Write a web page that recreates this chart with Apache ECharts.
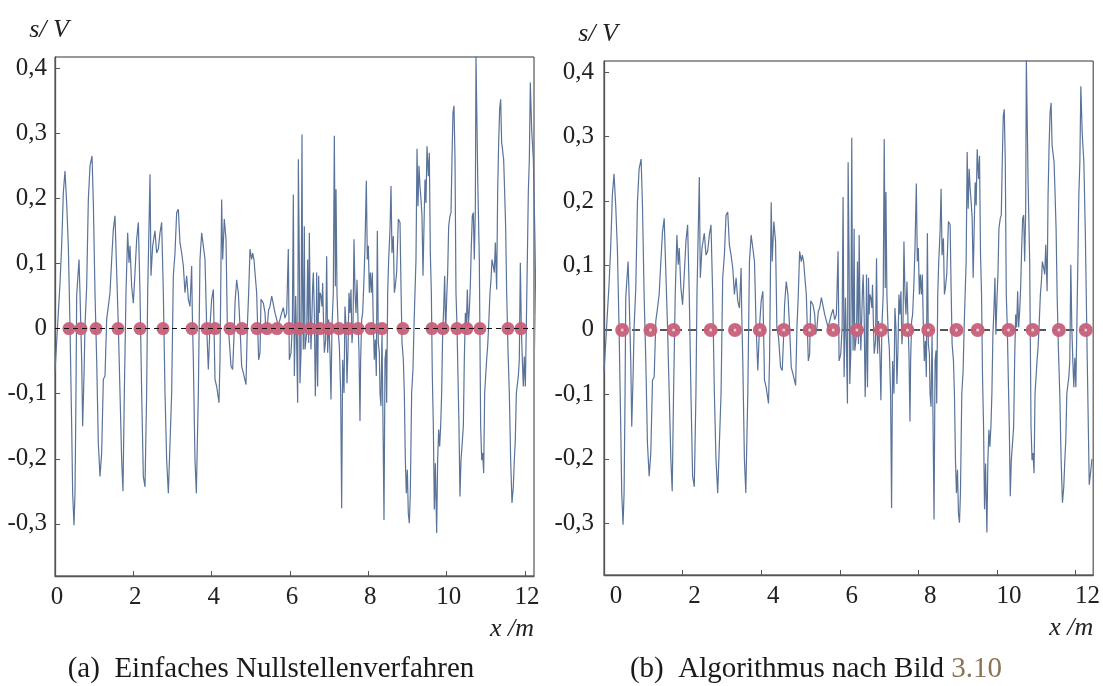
<!DOCTYPE html>
<html><head><meta charset="utf-8">
<script src="https://cdn.jsdelivr.net/npm/echarts@6/dist/echarts.min.js"></script>
<style>html,body{margin:0;padding:0;background:#fff}#c{width:1103px;height:686px}</style>
</head><body><div id="c"></div>
<script>
// Signal s(x) in V over x in m
const signalX = [
0,0.128,0.17,0.213,0.255,0.281,0.298,0.34,0.383,0.426,0.451,0.485,0.511,0.536,0.553,0.613,0.638,0.681,0.706,0.74,
0.766,0.809,0.851,0.894,0.945,0.979,1.021,1.064,1.106,1.149,1.191,1.234,1.277,1.319,1.362,1.404,1.447,1.489,1.532,1.557,
1.617,1.66,1.702,1.736,1.77,1.813,1.855,1.889,1.915,1.957,2.0,2.043,2.085,2.128,2.17,2.213,2.255,2.298,2.34,2.366,
2.4,2.426,2.451,2.494,2.553,2.596,2.638,2.681,2.723,2.766,2.809,2.851,2.894,2.936,2.979,3.021,3.064,3.106,3.149,3.191,
3.234,3.277,3.319,3.362,3.404,3.447,3.489,3.506,3.532,3.574,3.609,3.66,3.702,3.745,3.787,3.83,3.872,3.915,3.957,4.0,
4.043,4.085,4.128,4.187,4.213,4.255,4.281,4.323,4.366,4.4,4.443,4.494,4.536,4.57,4.596,4.638,4.681,4.723,4.766,4.809,
4.877,4.911,4.945,4.979,5.021,5.047,5.081,5.106,5.149,5.174,5.2,5.234,5.26,5.319,5.362,5.387,5.421,5.455,5.489,5.532,
5.617,5.702,
5.745,5.787,5.83,5.872,5.915,5.957,5.983,6.026,6.06,6.085,6.111,6.145,6.17,6.196,6.213,6.238,6.255,6.281,6.306,6.323,
6.34,6.366,6.383,6.426,6.451,6.477,6.494,6.511,6.536,6.562,6.579,6.596,6.621,6.647,6.664,6.681,6.706,6.732,6.749,6.766,
6.792,6.817,6.834,6.851,6.877,6.911,6.936,6.962,6.987,7.021,7.047,7.072,7.106,7.132,7.158,7.175,7.2,7.234,7.26,7.294,
7.319,7.345,7.379,7.404,7.43,7.455,7.481,7.506,7.532,7.557,7.583,7.609,7.634,7.66,7.685,7.711,7.736,7.762,7.787,7.804,
7.83,7.855,7.889,7.915,7.949,7.974,8.0,8.026,8.051,8.077,8.102,8.128,8.153,8.179,8.204,8.23,8.255,8.281,8.298,8.323,
8.349,8.374,8.4,8.426,8.451,8.468,8.494,8.519,8.553,8.579,8.604,8.638,8.664,8.689,8.723,8.766,8.809,8.834,8.86,8.894,
8.919,8.945,8.97,8.996,9.021,9.047,9.072,9.106,9.14,9.166,9.191,9.217,9.243,9.268,9.294,9.319,9.345,9.37,9.396,9.421,
9.447,9.472,9.498,9.532,9.557,9.583,9.609,9.634,9.66,9.685,9.711,9.745,9.77,9.796,9.821,9.847,9.872,9.898,9.923,9.949,
9.974,10.0,10.026,10.051,10.085,10.111,10.136,10.162,10.187,10.213,10.238,10.264,10.289,10.315,10.34,10.366,10.391,10.426,10.451,10.477,
10.502,10.528,10.553,10.579,10.604,10.63,10.655,10.681,10.706,10.732,10.749,10.792,10.834,10.868,10.894,10.919,10.945,10.97,10.996,11.021,
11.047,11.072,11.106,11.132,11.157,11.191,11.217,11.243,11.277,11.302,11.328,11.353,11.379,11.404,11.43,11.455,11.481,11.506,11.532,11.566,
11.6,11.634,11.668,11.702,11.728,11.753,11.779,11.804,11.83,11.855,11.881,11.906,11.932,11.957,11.983,12.009,12.034,12.06,12.085,12.111,
12.136,12.17,12.213,12.25,12.3,12.35,12.42
];
const signalY = [
-0.066,0.07,0.127,0.209,0.242,0.242,0.193,0.127,0.004,-0.15,-0.253,-0.302,-0.253,-0.099,0.05,0.106,0.055,-0.048,-0.15,-0.073,
0.004,0.065,0.198,0.25,0.265,0.193,0.055,-0.048,-0.176,-0.227,-0.191,-0.078,-0.073,0.014,0.034,0.055,0.106,0.152,0.173,0.122,
0.004,-0.099,-0.202,-0.25,-0.099,0.055,0.147,0.101,0.127,0.065,0.039,0.086,0.137,0.163,0.055,-0.099,-0.227,-0.243,-0.099,0.055,
0.157,0.237,0.081,0.127,0.15,0.116,0.122,0.147,0.163,0.055,-0.099,-0.202,-0.253,-0.253,-0.099,0.081,0.116,0.178,0.183,0.132,
0.116,0.096,0.055,0.081,0.045,0.034,0.096,0.024,-0.048,-0.202,-0.253,-0.099,0.106,0.147,0.127,0.106,0.004,-0.063,0.004,0.045,
0.06,-0.078,-0.089,-0.114,-0.048,0.198,0.106,0.168,0.137,0.004,-0.012,-0.058,-0.063,-0.012,0.039,0.075,0.055,0.004,-0.058,-0.068,
-0.086,0.004,0.055,0.122,0.106,0.116,0.106,0.086,0.055,0.004,-0.048,-0.037,0.045,0.039,0.024,-0.007,0.004,0.029,0.034,0.05,
0.024,0.004,
0.014,0.024,0.032,0.016,0.024,0.122,-0.048,-0.037,0.004,0.206,-0.073,0.05,-0.022,-0.114,0.26,0.106,-0.084,-0.037,0.298,0.045,
-0.032,0.157,-0.032,-0.007,0.106,-0.022,0.147,0.055,-0.032,0.024,0.065,0.086,0.024,-0.104,-0.048,0.086,-0.089,0.081,0.024,0.055,
0.05,0.034,0.07,0.024,-0.037,-0.017,0.111,-0.037,0.014,-0.037,-0.109,0.004,0.055,0.296,0.065,0.214,0.055,-0.007,-0.027,-0.099,
-0.276,-0.048,-0.099,0.034,0.004,-0.084,-0.032,0.055,0.024,0.06,-0.022,0.004,0.137,0.055,0.024,0.075,0.014,-0.037,-0.142,-0.048,
0.014,0.024,0.075,0.127,0.227,0.106,0.127,0.055,0.086,0.055,0.086,0.004,-0.048,-0.017,-0.073,0.15,-0.022,-0.037,-0.099,-0.119,
-0.007,-0.14,-0.294,-0.048,-0.032,-0.114,0.055,0.106,0.152,0.219,0.116,0.142,0.055,0.065,0.086,0.168,0.163,0.065,-0.022,-0.048,
-0.099,-0.202,-0.253,-0.217,-0.284,-0.299,-0.253,-0.099,-0.063,0.004,0.055,0.106,0.276,0.188,0.25,0.219,0.198,0.173,0.081,0.157,
0.229,0.193,0.28,0.234,0.27,0.116,0.055,-0.073,-0.15,-0.278,-0.207,-0.314,-0.202,-0.155,-0.181,-0.15,-0.099,-0.007,0.029,0.081,
-0.007,0.045,0.086,0.157,0.173,0.178,0.26,0.332,0.342,0.26,0.055,0.004,-0.073,-0.15,-0.258,-0.202,-0.181,-0.15,-0.048,0.024,
0.004,0.06,0.004,0.029,0.065,0.127,0.173,0.178,0.106,0.183,0.42,0.234,0.106,-0.15,-0.202,-0.191,-0.222,-0.099,-0.073,-0.048,
-0.027,0.004,0.055,0.075,0.106,0.096,0.086,0.132,0.06,0.209,0.286,0.337,0.352,0.286,0.286,0.26,0.209,0.157,0.055,-0.032,
-0.099,-0.202,-0.268,-0.243,-0.202,-0.171,-0.099,-0.099,-0.073,-0.048,0.101,0.004,-0.048,-0.089,-0.043,-0.089,0.004,0.106,0.209,0.26,
0.378,0.306,0.26,0.15,-0.05,-0.24,-0.2
];
// zero positions found by each method (x in m)
const zerosA = [0.357,0.664,1.047,1.608,2.17,2.757,3.498,3.88,4.085,4.468,4.774,5.157,5.412,5.668,5.974,6.23,6.51,6.765,6.995,7.251,7.481,7.736,8.067,8.348,8.884,9.625,9.906,10.263,10.518,10.85,11.565,11.897];
const zerosB = [0.463,1.182,1.772,2.716,3.334,3.967,4.575,5.233,5.835,6.438,7.046,7.722,8.253,8.97,9.511,10.296,10.911,11.577,12.261];
const xTicks = [0,2,4,6,8,10,12];
const yTicks = [-0.3,-0.2,-0.1,0,0.1,0.2,0.3,0.4];

const signal = signalX.map((x, i) => [x, signalY[i]]);
const ptsA = zerosA.map(x => [x, 0]);
const ptsB = zerosB.map(x => [x, 0]);

const FONT = 'Liberation Serif';
const yFmt = v => (Math.abs(v) < 1e-9 ? '0' : v.toFixed(1).replace('.', ','));

function xAxis(grid, max, labelShift) {
  return {
    gridIndex: grid, type: 'value', min: 0, max: max,
    axisLine: { onZero: false, lineStyle: { color: '#555', width: 1.3 } },
    axisTick: { inside: true, length: 5, customValues: xTicks, lineStyle: { color: '#555', width: 1 } },
    axisLabel: { customValues: xTicks, fontFamily: FONT, fontSize: 25, color: '#222', margin: 9,
                 padding: [0, 0, 0, labelShift], formatter: v => String(Math.round(v)) },
    splitLine: { show: false },
    name: 'x /m', nameLocation: 'end', nameGap: 0,
    nameTextStyle: { fontFamily: FONT, fontStyle: 'italic', fontSize: 26, color: '#222',
                     align: 'right', verticalAlign: 'top', padding: [40, 0, 0, 0] }
  };
}
function yAxis(grid, margin) {
  return {
    gridIndex: grid, type: 'value', min: -0.38, max: 0.417,
    axisLine: { onZero: false, lineStyle: { color: '#555', width: 1.3 } },
    axisTick: { inside: true, length: 5, customValues: yTicks, lineStyle: { color: '#555', width: 1 } },
    axisLabel: { customValues: yTicks, fontFamily: FONT, fontSize: 25, color: '#222', margin: margin, formatter: yFmt },
    splitLine: { show: false },
    name: 's/ V', nameLocation: 'end', nameGap: 14,
    nameTextStyle: { fontFamily: FONT, fontStyle: 'italic', fontSize: 26, color: '#222', align: 'center', padding: [0, 12, 0, 0] }
  };
}

const chart = echarts.init(document.getElementById('c'));
chart.setOption({
  animation: false,
  backgroundColor: '#fff',
  grid: [
    { left: 55, top: 57, width: 479, height: 519, show: true, borderColor: '#333', borderWidth: 1, backgroundColor: 'transparent' },
    { left: 604, top: 61, width: 493, height: 514, show: true, borderColor: '#333', borderWidth: 1, backgroundColor: 'transparent' }
  ],
  xAxis: [xAxis(0, 12.23, 4), xAxis(1, 12.45, 24)],
  yAxis: [yAxis(0, 8), yAxis(1, 10)],
  series: [
    { type: 'line', xAxisIndex: 0, yAxisIndex: 0, data: signal, showSymbol: false, silent: true, z: 2,
      lineStyle: { color: '#5a7399', width: 1.2 } },
    { type: 'scatter', xAxisIndex: 0, yAxisIndex: 0, data: ptsA, symbolSize: 13, silent: true, z: 3,
      itemStyle: { color: '#c8607a', opacity: 0.95 },
      markLine: { silent: true, symbol: 'none', z: 5, label: { show: false },
        lineStyle: { color: '#111', width: 1.2, type: [5, 4] }, data: [{ yAxis: 0 }] } },
    { type: 'line', xAxisIndex: 1, yAxisIndex: 1, data: signal, showSymbol: false, silent: true, z: 2,
      lineStyle: { color: '#5a7399', width: 1.2 },
      markLine: { silent: true, symbol: 'none', z: 2, label: { show: false },
        lineStyle: { color: '#555', width: 2, type: [8, 6] }, data: [{ yAxis: 0 }] } },
    { type: 'scatter', xAxisIndex: 1, yAxisIndex: 1, data: ptsB, symbolSize: 14, silent: true, z: 3,
      itemStyle: { color: '#c8607a', opacity: 0.95 } },
    { type: 'scatter', xAxisIndex: 1, yAxisIndex: 1, data: ptsB, symbolSize: 3, silent: true, z: 4,
      itemStyle: { color: '#f4e8ea' } }
  ],
  graphic: [
    { type: 'text', x: 271, y: 669, silent: true,
      style: { text: '(a)\u2002Einfaches Nullstellenverfahren', font: '29px "Liberation Serif"', fill: '#1a1a1a',
               textAlign: 'center', textVerticalAlign: 'middle' } },
    { type: 'text', x: 816, y: 669, silent: true,
      style: { text: '{t|(b)\u2002Algorithmus nach Bild }{r|3.10}', textAlign: 'center', textVerticalAlign: 'middle',
               rich: { t: { font: '29px "Liberation Serif"', fill: '#1a1a1a' },
                       r: { font: '29px "Liberation Serif"', fill: '#8c7355' } } } }
  ]
});
</script></body></html>
